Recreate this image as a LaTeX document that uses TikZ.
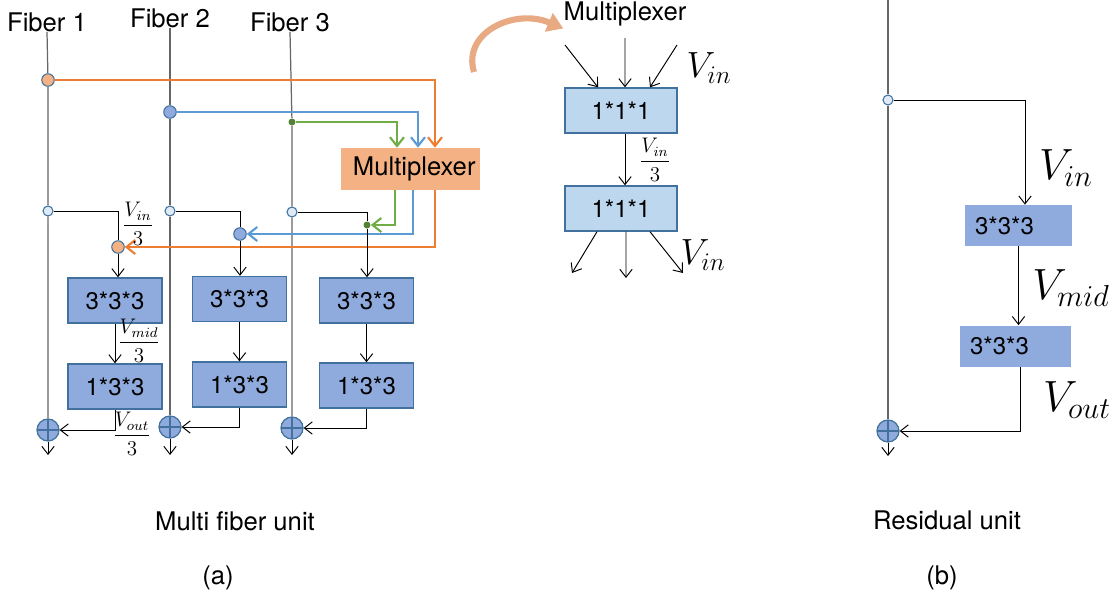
\documentclass[tikz,border=0pt]{standalone}
\usepackage{fontspec}
\setmainfont{TeX Gyre Heros}
\usepackage{amsmath}
\usetikzlibrary{arrows.meta, positioning}
\definecolor{muxorange}{RGB}{237,125,49}
\definecolor{muxfill}{RGB}{244,177,131}
\definecolor{curvecol}{RGB}{232,170,130}
\definecolor{lineblue}{RGB}{91,155,213}
\definecolor{linegreen}{RGB}{112,173,71}
\definecolor{dotgreen}{RGB}{84,130,53}
\definecolor{boxblue}{RGB}{143,170,220}
\definecolor{boxedge}{RGB}{65,113,156}
\definecolor{lightblue}{RGB}{189,215,238}
\definecolor{tapfill}{RGB}{222,235,247}

\begin{document}
\begin{tikzpicture}[x=0.02cm, y=-0.02cm,
        txt/.style={font=\fontsize{14.6pt}{17pt}\selectfont, inner sep=0pt},
        boxtxt/.style={font=\fontsize{13.7pt}{16pt}\selectfont, inner sep=0pt},
        frac/.style={font=\fontsize{11.5pt}{13pt}\selectfont, inner sep=0pt},
        conv/.style={boxtxt, draw=boxedge, line width=0.8pt, fill=boxblue, minimum width=1.88cm, minimum height=0.9cm},
        pwise/.style={conv, fill=lightblue, minimum width=2.24cm},
        resbox/.style={boxtxt, fill=boxblue, align=left, inner xsep=0.2cm, minimum height=0.82cm},
        mux/.style={txt, fill=muxfill, minimum width=2.78cm, minimum height=0.84cm},
        tap/.style={circle, draw=boxedge, fill=tapfill, line width=0.6pt, minimum size=0.2cm, inner sep=0pt},
        dot/.style={circle, draw=boxedge, line width=0.6pt, minimum size=0.25cm, inner sep=0pt},
        gdot/.style={circle, fill=dotgreen, minimum size=0.14cm, inner sep=0pt},
        sum/.style={circle, draw=boxedge, fill=boxblue, line width=0.7pt, minimum size=0.44cm, inner sep=0pt,
            path picture={\draw[boxedge, line width=0.7pt] (path picture bounding box.north) -- (path picture bounding box.south)
                (path picture bounding box.west) -- (path picture bounding box.east);}},
        fib/.style={draw=black!60, line width=0.7pt},
        arr/.style={-{Straight Barb[length=4.5pt, width=7pt]}, line width=0.55pt},
        cline/.style={-{Straight Barb[length=5pt, width=8pt]}, line width=1.2pt}
    ]
        \useasboundingbox (0,0) rectangle (1110,596);

        % (a) multi fiber unit
        \node[txt] (fib1) at (47,22) {Fiber 1};
        \node[txt] (fib2) at (170,18) {Fiber 2};
        \node[txt] (fib3) at (290,22) {Fiber 3};
        \node[mux] (mux) at (410.5,169) {\hspace{0.15cm}Multiplexer};

        \node[dot, fill=muxfill] (o1) at (48,80) {};
        \node[dot, fill=boxblue] (b1) at (170,112) {};
        \node[gdot] (g1) at (292,122) {};
        \node[tap] (t1) at (48,211) {};
        \node[tap] (t2) at (170,211) {};
        \node[tap] (t3) at (292,212) {};
        \node[dot, fill=muxfill] (o2) at (118,247) {};
        \node[dot, fill=boxblue] (b2) at (240,234) {};
        \node[gdot] (g2) at (367,225) {};

        \node[conv] (c1a) at (115,300.5) {3*3*3};
        \node[conv] (c1b) at (115,386.5) {1*3*3};
        \node[conv] (c2a) at (239.5,299) {3*3*3};
        \node[conv] (c2b) at (239.5,384.5) {1*3*3};
        \node[conv] (c3a) at (366.5,300.5) {3*3*3};
        \node[conv] (c3b) at (366.5,385.5) {1*3*3};

        \node[sum] (sum1) at (48,430) {};
        \node[sum] (sum2) at (170,427) {};
        \node[sum] (sum3) at (292,428) {};
        \coordinate (out1) at (48,455);
        \coordinate (out2) at (170,455);
        \coordinate (out3) at (292,455);

        \draw[fib] (fib1.south) -- (o1) -- (t1) -- (sum1);
        \draw[fib] (fib2.south) -- (b1) -- (t2) -- (sum2);
        \draw[fib] (fib3.south) -- (g1) -- (t3) -- (sum3);
        \draw[arr] (sum1) -- (out1);
        \draw[arr] (sum2) -- (out2);
        \draw[arr] (sum3) -- (out3);

        % into and out of the multiplexer
        \draw[cline, muxorange] (o1) -| ([xshift=0.49cm]mux.north);
        \draw[cline, lineblue] (b1) -| ([xshift=0.15cm]mux.north);
        \draw[cline, linegreen] (g1) -| ([xshift=-0.27cm]mux.north);
        \draw[cline, muxorange] ([xshift=0.49cm]mux.south) |- (o2);
        \draw[cline, lineblue] ([xshift=0.05cm]mux.south) |- (b2);
        \draw[cline, linegreen] ([xshift=-0.31cm]mux.south) |- (g2);

        \draw[line width=0.55pt] (t1) -| (o2);
        \draw[line width=0.55pt] (t2) -| (b2);
        \draw[line width=0.55pt] (t3) -| (g2);
        \draw[arr] (o2) -- (o2 |- c1a.north);
        \draw[arr] (b2) -- (b2 |- c2a.north);
        \draw[arr] (g2) -- (g2 |- c3a.north);
        \draw[arr] (c1a) -- (c1b);
        \draw[arr] (c2a) -- (c2b);
        \draw[arr] (c3a) -- (c3b);
        \draw[arr] (c1b.south) |- (sum1);
        \draw[arr] (c2b.south) |- (sum2);
        \draw[arr] (c3b.south) |- (sum3);

        \node[frac] (fin) at (138,224) {$\dfrac{V_{in}}{3}$};
        \node[frac] (fmid) at (139,341) {$\dfrac{V_{mid}}{3}$};
        \node[frac] (fout) at (132,434) {$\dfrac{V_{out}}{3}$};

        % inside the multiplexer
        \node[txt] (mtitle) at (625,14) {Multiplexer};
        \node[pwise] (m1) at (621,110.5) {1*1*1};
        \node[pwise] (m2) at (621,208.5) {1*1*1};
        \coordinate (in1) at (565,45);
        \coordinate (in2) at (625,38);
        \coordinate (in3) at (677,45);
        \coordinate (ot1) at (572,273);
        \coordinate (ot2) at (626,278);
        \coordinate (ot3) at (683,273);
        \coordinate (cs) at (474,72);
        \draw[-{Triangle[length=9pt, width=11pt]}, curvecol, line width=3.5pt]
            (cs) .. controls (462,32) and (515,8) .. ([yshift=-0.04cm]mtitle.south west);
        \draw[arr] (in1) -- ([xshift=-0.46cm]m1.north);
        \draw[arr] (in2) -- ([xshift=0.08cm]m1.north);
        \draw[arr] (in3) -- ([xshift=0.58cm]m1.north);
        \draw[arr] ([xshift=0.08cm]m1.south) -- ([xshift=0.08cm]m2.north);
        \draw[arr] ([xshift=-0.48cm]m2.south) -- (ot1);
        \draw[arr] ([xshift=0.1cm]m2.south) -- (ot2);
        \draw[arr] ([xshift=0.58cm]m2.south) -- (ot3);
        \node[font=\fontsize{21pt}{24pt}\selectfont, inner sep=0pt] (vin1) at (709,68) {$V_{in}$};
        \node[frac] (fin2) at (655,160) {$\dfrac{V_{in}}{3}$};
        \node[font=\fontsize{21pt}{24pt}\selectfont, inner sep=0pt] (vin2) at (703,255) {$V_{in}$};

        % (b) residual unit
        \coordinate (rtop) at (888,0);
        \node[tap] (rt) at (888,100) {};
        \node[resbox, text width=1.74cm] (r1) at (1018.5,225.5) {3*3*3};
        \node[resbox, text width=1.82cm] (r2) at (1015.5,346) {3*3*3};
        \node[sum] (rs) at (888,431) {};
        \coordinate (rout) at (888,456);
        \draw[fib] (rtop) -- (rt) -- (rs);
        \draw[arr] (rs) -- (rout);
        \draw[arr] (rt) -| ([xshift=0.13cm]r1.north);
        \draw[arr] (r1) -- (r1 |- r2.north);
        \draw[arr] ([xshift=0.09cm]r2.south) |- (rs);
        \node[font=\fontsize{23pt}{26pt}\selectfont, inner sep=0pt] (rvin) at (1066,168) {$V_{in}$};
        \node[font=\fontsize{23pt}{26pt}\selectfont, inner sep=0pt] (rvmid) at (1071,288) {$V_{mid}$};
        \node[font=\fontsize{23pt}{26pt}\selectfont, inner sep=0pt] (rvout) at (1077,400) {$V_{out}$};

        % captions
        \node[txt] (capa) at (235,521) {Multi fiber unit};
        \node[txt] (laba) at (218,578) {(a)};
        \node[txt] (capb) at (947,520) {Residual unit};
        \node[txt] (labb) at (942,578) {(b)};
    \end{tikzpicture}
\end{document}
